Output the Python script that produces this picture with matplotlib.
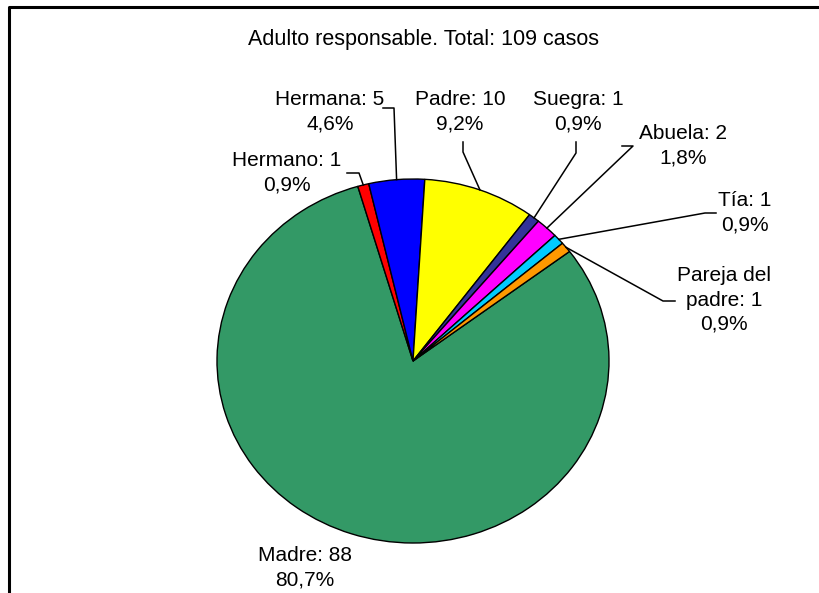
import matplotlib
matplotlib.use("Agg")
import matplotlib.pyplot as plt
import numpy as np

title = "Adulto responsable. Total: 109 casos"
categories = ["Madre", "Hermano", "Hermana", "Padre", "Suegra", "Abuela", "Tía", "Pareja del\npadre"]
values = [88, 1, 5, 10, 1, 2, 1, 1]
percent_labels = ["80,7%", "0,9%", "4,6%", "9,2%", "0,9%", "1,8%", "0,9%", "0,9%"]
colors = ["#339966", "#FF0000", "#0000FF", "#FFFF00", "#333399", "#FF00FF", "#00CCFF", "#FF9900"]

W, H = 819, 593
fig = plt.figure(figsize=(W / 100, H / 100), dpi=100)
font = "Liberation Sans"
fs = 15

# pie ellipse geometry (pixels)
cx, cy, rx, ry = 413, 361, 196, 182
ax = fig.add_axes([(cx - rx) / W, (H - cy - ry) / H, 2 * rx / W, 2 * ry / H])
wedges, _ = ax.pie(values, colors=colors, startangle=37, counterclock=False, radius=1,
                   wedgeprops=dict(edgecolor="black", linewidth=1.0))
ax.set_aspect("auto")
ax.set_xlim(-1, 1)
ax.set_ylim(-1, 1)
ax.axis("off")
for w in wedges:
    w.set_clip_on(False)

ov = fig.add_axes([0, 0, 1, 1], zorder=5)
ov.set_xlim(0, W)
ov.set_ylim(H, 0)
ov.axis("off")
ov.patch.set_alpha(0)

# frame (left and top)
ov.plot([9, 9, W], [H + 5, 6.5, 6.5], color="black", lw=2.2, solid_capstyle="butt")

ov.text(423, 40, title, ha="center", va="center", fontsize=fs + 0.5, family=font)

# label layout: (text center x, text center y, leader path points before pie point)
layout = {
    "Madre": (305, 568, None),
    "Hermano": (287, 173, [(347, 173), (359, 173)]),
    "Hermana": (330, 112, [(383, 108), (394, 108)]),
    "Padre": (460, 112, [(463, 142), (463, 152)]),
    "Suegra": (578, 112, [(576, 142), (576, 153)]),
    "Abuela": (683, 146, [(622, 146), (633, 146)]),
    "Tía": (745, 213, [(716, 213), (705, 213)]),
    "Pareja del\npadre": (724, 300, [(675, 301), (663, 301)]),
}

for w, cat, v, pct in zip(wedges, categories, values, percent_labels):
    tx, ty, path = layout[cat]
    ov.text(tx, ty, f"{cat}: {v}\n{pct}", ha="center", va="center", fontsize=fs,
            family=font, linespacing=1.35)
    if path is not None:
        mid = np.deg2rad((w.theta1 + w.theta2) / 2)
        px = cx + rx * np.cos(mid)
        py = cy - ry * np.sin(mid)
        xs = [p[0] for p in path] + [px]
        ys = [p[1] for p in path] + [py]
        ov.plot(xs, ys, color="black", lw=1.1)

fig.savefig("out.png", dpi=100)
